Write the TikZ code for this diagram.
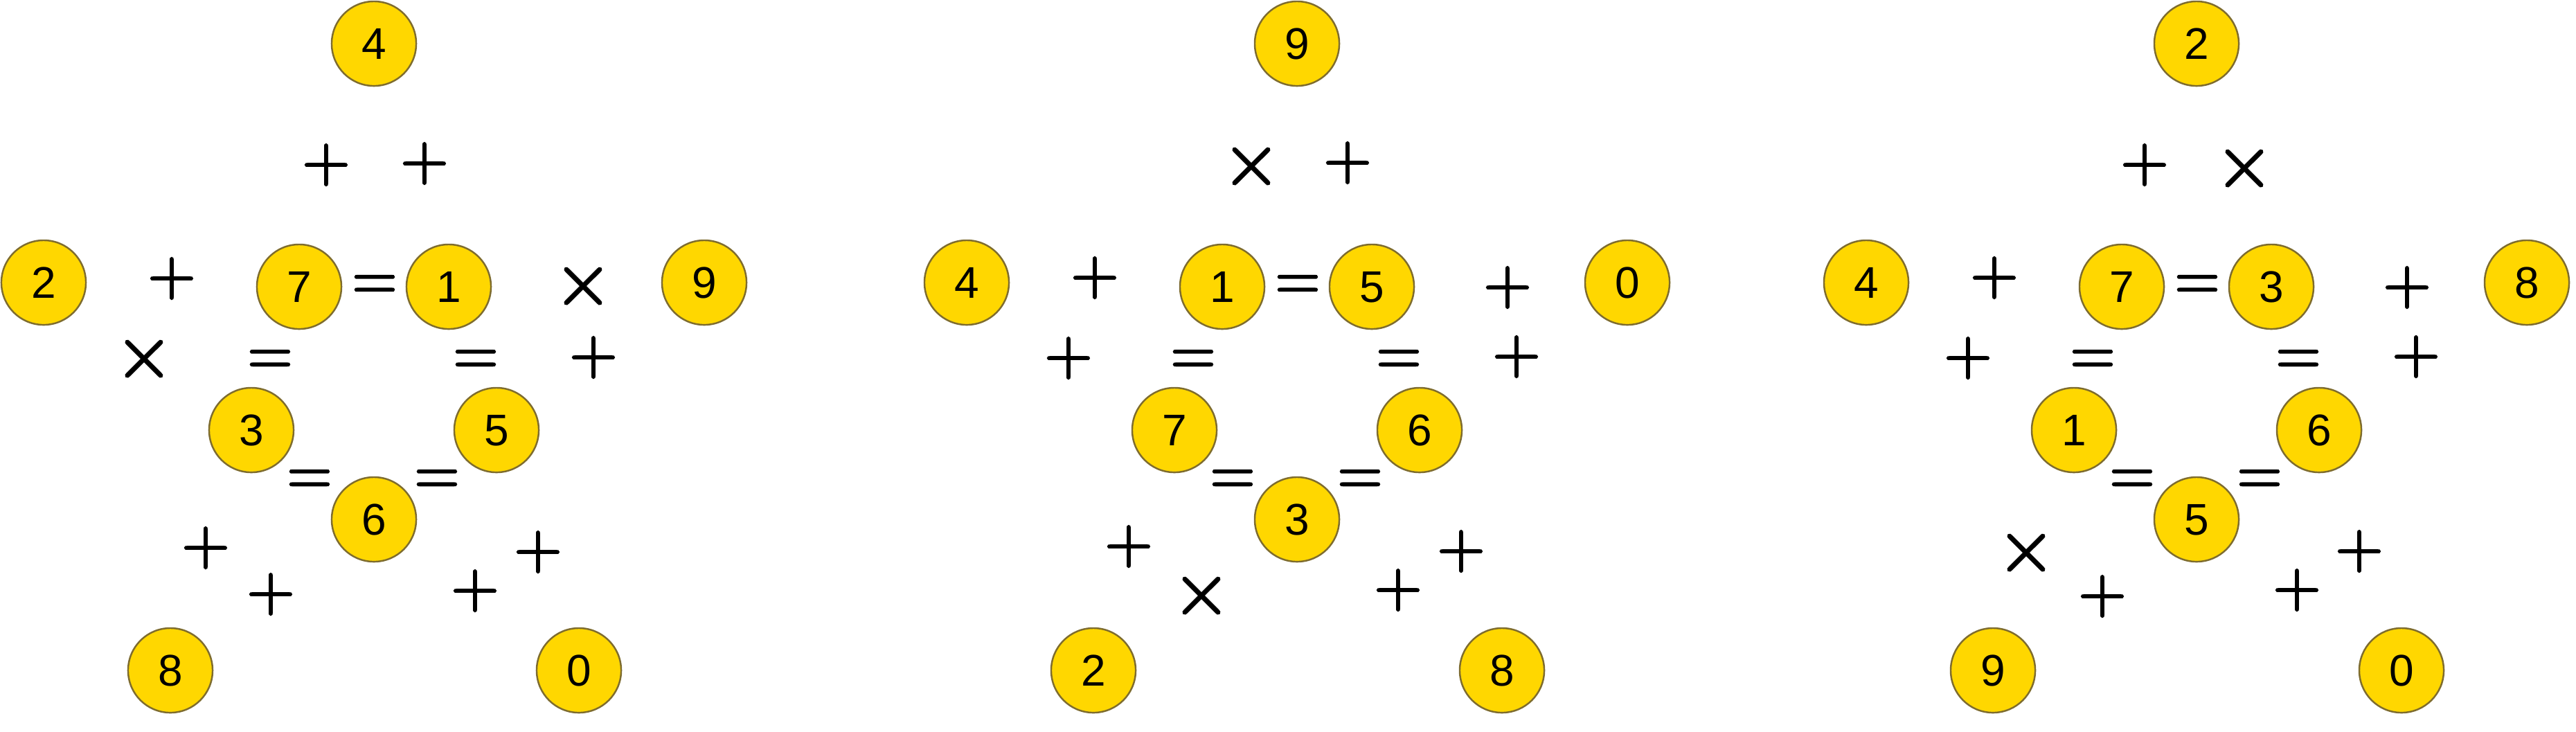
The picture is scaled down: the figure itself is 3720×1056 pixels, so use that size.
\documentclass[tikz,border=0pt]{standalone}
\usepackage{fontspec}
\newfontfamily\digitfont{Liberation Sans}
\newfontfamily\opfont{Latin Modern Roman}[FakeBold=2.6]
\newfontfamily\eqfont{Latin Modern Roman}[FakeBold=2.0]
\definecolor{gold}{HTML}{FFD700}
\definecolor{ringc}{HTML}{7E6C2E}
\tikzset{
  ring/.style={circle, draw=ringc, fill=gold, line width=0.7pt, minimum size=1.22cm,
    inner sep=0pt, font=\digitfont\fontsize{18.2}{20}\selectfont, text height=0.458cm, text depth=0pt},
  opsym/.style={inner sep=0pt, font=\opfont\fontsize{27}{30}\selectfont,
    text height=0.475cm, text depth=0pt},
  mulsym/.style={inner sep=0pt, font=\opfont\fontsize{32.5}{35}\selectfont,
    text height=0.572cm, text depth=0pt},
  eqsym/.style={inner sep=0pt, font=\eqfont\fontsize{25.6}{28}\selectfont,
    text height=0.522cm, text depth=0pt},
}
\newcommand\eqglyph{\scalebox{1}[1.16]{=}}
\begin{document}
\begin{tikzpicture}[x=0.01cm, y=-0.01cm]
\useasboundingbox (0,0) rectangle (3720,1056);
% ---------- panel 1 ----------
\node[ring] (a-T)  at (540,63)  {4};
\node[ring] (a-L)  at (63,408)  {2};
\node[ring] (a-R)  at (1017,408) {9};
\node[ring] (a-BL) at (246,968) {8};
\node[ring] (a-BR) at (836,968) {0};
\node[ring] (a-IA) at (432,414) {7};
\node[ring] (a-IB) at (648,414) {1};
\node[ring] (a-IC) at (363,621) {3};
\node[ring] (a-ID) at (717,621) {5};
\node[ring] (a-IE) at (540,750) {6};
\node[eqsym] (a-e1) at (541,409) {\eqglyph};
\node[eqsym] (a-e2) at (390,517) {\eqglyph};
\node[eqsym] (a-e3) at (687,517) {\eqglyph};
\node[eqsym] (a-e4) at (447,690) {\eqglyph};
\node[eqsym] (a-e5) at (631,690) {\eqglyph};
\node[opsym] (a-o1) at (471,238) {+};
\node[opsym] (a-o2) at (613,236) {+};
\node[opsym] (a-o3) at (248,402) {+};
\node[mulsym] (a-o4) at (208,518) {×};
\node[mulsym] (a-o5) at (842,413) {×};
\node[opsym] (a-o6) at (857,516) {+};
\node[opsym] (a-o7) at (297,791) {+};
\node[opsym] (a-o8) at (391,858) {+};
\node[opsym] (a-o9) at (686,853) {+};
\node[opsym] (a-o10) at (777,797) {+};
% ---------- panel 2 ----------
\node[ring] (b-T)  at (1873,63)  {9};
\node[ring] (b-L)  at (1396,408) {4};
\node[ring] (b-R)  at (2350,408) {0};
\node[ring] (b-BL) at (1579,968) {2};
\node[ring] (b-BR) at (2169,968) {8};
\node[ring] (b-IA) at (1765,414) {1};
\node[ring] (b-IB) at (1981,414) {5};
\node[ring] (b-IC) at (1696,621) {7};
\node[ring] (b-ID) at (2050,621) {6};
\node[ring] (b-IE) at (1873,750) {3};
\node[eqsym] (b-e1) at (1874,409) {\eqglyph};
\node[eqsym] (b-e2) at (1723,517) {\eqglyph};
\node[eqsym] (b-e3) at (2020,517) {\eqglyph};
\node[eqsym] (b-e4) at (1780,690) {\eqglyph};
\node[eqsym] (b-e5) at (1964,690) {\eqglyph};
\node[mulsym] (b-o1) at (1807,240) {×};
\node[opsym] (b-o2) at (1946,235) {+};
\node[opsym] (b-o3) at (1581,401) {+};
\node[opsym] (b-o4) at (1543,517) {+};
\node[opsym] (b-o5) at (2177,415) {+};
\node[opsym] (b-o6) at (2190,515) {+};
\node[opsym] (b-o7) at (1630,789) {+};
\node[mulsym] (b-o8) at (1735,860) {×};
\node[opsym] (b-o9) at (2019,852) {+};
\node[opsym] (b-o10) at (2110,796) {+};
% ---------- panel 3 ----------
\node[ring] (c-T)  at (3172,63)  {2};
\node[ring] (c-L)  at (2695,408) {4};
\node[ring] (c-R)  at (3649,408) {8};
\node[ring] (c-BL) at (2878,968) {9};
\node[ring] (c-BR) at (3468,968) {0};
\node[ring] (c-IA) at (3064,414) {7};
\node[ring] (c-IB) at (3280,414) {3};
\node[ring] (c-IC) at (2995,621) {1};
\node[ring] (c-ID) at (3349,621) {6};
\node[ring] (c-IE) at (3172,750) {5};
\node[eqsym] (c-e1) at (3173,409) {\eqglyph};
\node[eqsym] (c-e2) at (3022,517) {\eqglyph};
\node[eqsym] (c-e3) at (3319,517) {\eqglyph};
\node[eqsym] (c-e4) at (3079,690) {\eqglyph};
\node[eqsym] (c-e5) at (3263,690) {\eqglyph};
\node[opsym] (c-o1) at (3097,238) {+};
\node[mulsym] (c-o2) at (3241,243) {×};
\node[opsym] (c-o3) at (2880,401) {+};
\node[opsym] (c-o4) at (2842,517) {+};
\node[opsym] (c-o5) at (3476,415) {+};
\node[opsym] (c-o6) at (3489,515) {+};
\node[mulsym] (c-o7) at (2926,798) {×};
\node[opsym] (c-o8) at (3036,861) {+};
\node[opsym] (c-o9) at (3317,852) {+};
\node[opsym] (c-o10) at (3407,796) {+};
\end{tikzpicture}
\end{document}
